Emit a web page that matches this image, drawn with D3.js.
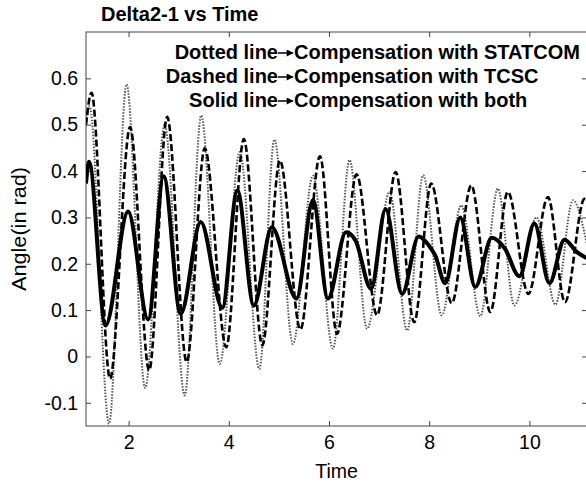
<!DOCTYPE html>
<html>
<head>
<meta charset="utf-8">
<script src="https://cdn.jsdelivr.net/npm/d3@7"></script>
<style>
  body { margin: 0; background: #fff; }
  svg { display: block; font-family: "Liberation Sans", Arial, sans-serif; }
</style>
</head>
<body>
<svg id="chart" width="586" height="485"></svg>
<script>
// Values (peaks, troughs and shoulders)
const statcomTime = [1.15, 1.22, 1.61, 1.96, 2.33, 2.72, 3.12, 3.45, 3.82, 4.22, 4.61, 4.91, 5.28, 5.68, 6.08, 6.41, 6.76, 7.21, 7.56, 7.88, 8.25, 8.64, 9.02, 9.37, 9.70, 10.14, 10.52, 10.87, 11.15];
const statcomAngle = [0.50, 0.54, -0.145, 0.587, -0.068, 0.50, -0.084, 0.52, -0.016, 0.441, -0.027, 0.468, 0.027, 0.39, 0.017, 0.424, 0.06, 0.355, 0.056, 0.391, 0.089, 0.326, 0.087, 0.362, 0.11, 0.30, 0.112, 0.337, 0.24];

const tcscTime = [1.15, 1.26, 1.63, 2.03, 2.41, 2.77, 3.16, 3.52, 3.95, 4.30, 4.67, 5.02, 5.43, 5.82, 6.16, 6.55, 6.96, 7.33, 7.70, 8.04, 8.45, 8.84, 9.22, 9.57, 9.98, 10.37, 10.71, 11.10, 11.15];
const tcscAngle = [0.50, 0.569, -0.048, 0.495, -0.030, 0.517, -0.012, 0.449, 0.020, 0.469, 0.024, 0.423, 0.058, 0.432, 0.049, 0.393, 0.089, 0.398, 0.074, 0.373, 0.115, 0.369, 0.096, 0.355, 0.135, 0.344, 0.117, 0.340, 0.338];

const bothTime = [1.15, 1.21, 1.54, 1.99, 2.39, 2.70, 3.04, 3.44, 3.87, 4.17, 4.50, 4.86, 5.35, 5.68, 5.98, 6.34, 6.53, 6.84, 7.13, 7.46, 7.79, 7.99, 8.12, 8.32, 8.62, 8.92, 9.25, 9.51, 9.80, 10.10, 10.40, 10.70, 10.95, 11.15];
const bothAngle = [0.373, 0.42, 0.067, 0.313, 0.080, 0.389, 0.092, 0.290, 0.105, 0.358, 0.110, 0.279, 0.125, 0.337, 0.125, 0.268, 0.25, 0.146, 0.318, 0.135, 0.259, 0.240, 0.218, 0.158, 0.300, 0.150, 0.256, 0.233, 0.173, 0.287, 0.158, 0.252, 0.225, 0.212];

const xTicks = [2, 4, 6, 8, 10];
const yTicks = [-0.1, 0, 0.1, 0.2, 0.3, 0.4, 0.5, 0.6];

const legendKeys = ["Dotted line", "Dashed line", "Solid line"];
const legendTexts = ["Compensation with STATCOM", "Compensation with TCSC", "Compensation with both"];

// Plot box
const box = { left: 86, top: 32, right: 587, bottom: 426 };

const svg = d3.select("#chart");

const x = d3.scaleLinear().domain([1.15, 11.15]).range([box.left, box.right]);
const y = d3.scaleLinear().domain([-0.15, 0.7]).range([box.bottom, box.top]);

const fmt = d => d === 0 ? "0" : d.toFixed(1);

// Clip for the curves
svg.append("clipPath").attr("id", "plotClip")
  .append("rect")
  .attr("x", box.left).attr("y", box.top)
  .attr("width", box.right - box.left).attr("height", box.bottom - box.top);

// Axes (ticks point inward)
const gBottom = svg.append("g")
  .attr("transform", `translate(0,${box.bottom})`)
  .call(d3.axisBottom(x).tickValues(xTicks).tickSizeInner(-5).tickSizeOuter(0).tickPadding(9).tickFormat(d3.format("d")));
const gTop = svg.append("g")
  .attr("transform", `translate(0,${box.top})`)
  .call(d3.axisTop(x).tickValues(xTicks).tickSizeInner(-5).tickSizeOuter(0).tickFormat(""));
const gLeft = svg.append("g")
  .attr("transform", `translate(${box.left},0)`)
  .call(d3.axisLeft(y).tickValues(yTicks).tickSizeInner(-5).tickSizeOuter(0).tickPadding(8).tickFormat(fmt));
const gRight = svg.append("g")
  .attr("transform", `translate(${box.right},0)`)
  .call(d3.axisRight(y).tickValues(yTicks).tickSizeInner(-5).tickSizeOuter(0).tickFormat(""));

[gBottom, gTop, gLeft, gRight].forEach(g => {
  g.select(".domain").remove();
  g.selectAll(".tick line").attr("stroke", "#444");
  g.selectAll(".tick text")
    .attr("fill", "#000")
    .style("font-size", "19.5px")
    .style("font-family", "'Liberation Sans', Arial, sans-serif");
});

// Frame
svg.append("rect")
  .attr("x", box.left).attr("y", box.top)
  .attr("width", box.right - box.left).attr("height", box.bottom - box.top)
  .attr("fill", "none").attr("stroke", "#444").attr("stroke-width", 1);

// Curves
const line = d3.line()
  .x(d => x(d[0]))
  .y(d => y(d[1]))
  .curve(d3.curveMonotoneX);

const curves = svg.append("g").attr("clip-path", "url(#plotClip)");

curves.append("path")
  .datum(statcomTime.map((t, i) => [t, statcomAngle[i]]))
  .attr("d", line)
  .attr("fill", "none")
  .attr("stroke", "#555")
  .attr("stroke-width", 2)
  .attr("stroke-dasharray", "1.5,1.5");

curves.append("path")
  .datum(tcscTime.map((t, i) => [t, tcscAngle[i]]))
  .attr("d", line)
  .attr("fill", "none")
  .attr("stroke", "#000")
  .attr("stroke-width", 2.6)
  .attr("stroke-dasharray", "7,3");

curves.append("path")
  .datum(bothTime.map((t, i) => [t, bothAngle[i]]))
  .attr("d", line)
  .attr("fill", "none")
  .attr("stroke", "#000")
  .attr("stroke-width", 4)
  .attr("stroke-linejoin", "round");

// Title
svg.append("text")
  .attr("x", 101).attr("y", 20.5)
  .style("font-size", "20px").style("font-weight", "bold")
  .text("Delta2-1 vs Time");

// Axis labels
svg.append("text")
  .attr("x", (box.left + box.right) / 2).attr("y", 478)
  .attr("text-anchor", "middle")
  .style("font-size", "19.5px")
  .text("Time");

svg.append("text")
  .attr("transform", `translate(26,${(box.top + box.bottom) / 2}) rotate(-90)`)
  .attr("text-anchor", "middle")
  .attr("textLength", 124)
  .attr("lengthAdjust", "spacingAndGlyphs")
  .style("font-size", "20px")
  .text("Angle(in rad)");

// Legend notes with arrows
const defs = svg.append("defs");
defs.append("marker")
  .attr("id", "arrowHead")
  .attr("viewBox", "0 0 10 10")
  .attr("refX", 9).attr("refY", 5)
  .attr("markerWidth", 8).attr("markerHeight", 7)
  .attr("markerUnits", "userSpaceOnUse")
  .attr("orient", "auto")
  .append("path").attr("d", "M0,0L10,5L0,10Z").attr("fill", "#000");

const legend = svg.append("g");
legendKeys.forEach((k, i) => {
  const base = 59 + i * 24;
  legend.append("text")
    .attr("x", 278).attr("y", base)
    .attr("text-anchor", "end")
    .style("font-size", "20px").style("font-weight", "bold")
    .text(k);
  legend.append("line")
    .attr("x1", 278).attr("x2", 293)
    .attr("y1", base - 6).attr("y2", base - 6)
    .attr("stroke", "#000").attr("stroke-width", 1.5)
    .attr("marker-end", "url(#arrowHead)");
  legend.append("text")
    .attr("x", 294).attr("y", base)
    .style("font-size", "20px").style("font-weight", "bold")
    .text(legendTexts[i]);
});
</script>
</body>
</html>
